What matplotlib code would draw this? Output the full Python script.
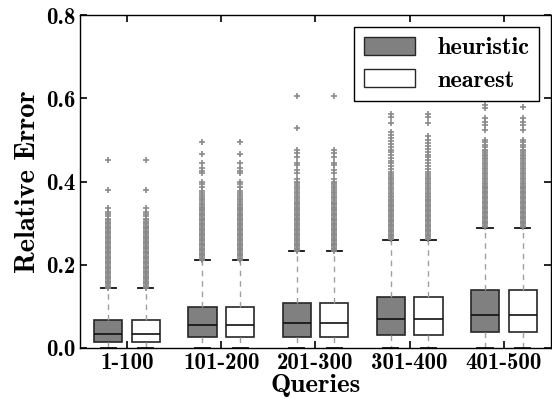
import matplotlib
matplotlib.use("Agg")
import matplotlib.pyplot as plt
from matplotlib.patches import Patch

plt.rcParams['font.family'] = ['cmb10', 'DejaVu Serif']
plt.rcParams['font.weight'] = 'bold'

categories = ["1-100", "101-200", "201-300", "301-400", "401-500"]
series = ["heuristic", "nearest"]

# box statistics (same for both methods)
q1 = [0.014, 0.026, 0.027, 0.030, 0.038]
med = [0.034, 0.055, 0.060, 0.069, 0.080]
q3 = [0.066, 0.099, 0.109, 0.122, 0.139]
whis_lo = [0.0, 0.0, 0.0, 0.0, 0.0]
whis_hi = [0.143, 0.211, 0.232, 0.259, 0.289]

fliers_heuristic = [
    [0.452, 0.380, 0.336, 0.327, 0.321, 0.316, 0.311, 0.307, 0.303, 0.300, 0.297, 0.294,
     0.291, 0.288, 0.285, 0.282, 0.279, 0.276, 0.273, 0.270, 0.267, 0.264, 0.261, 0.258,
     0.255, 0.252, 0.249, 0.246, 0.243, 0.240, 0.237, 0.234, 0.231, 0.228, 0.225, 0.222,
     0.219, 0.216, 0.213, 0.210, 0.207, 0.204, 0.201, 0.198, 0.195, 0.192, 0.189, 0.186,
     0.183, 0.180, 0.177, 0.174, 0.171, 0.168, 0.165, 0.162, 0.159, 0.156, 0.153, 0.150,
     0.147, 0.145],
    [0.496, 0.466, 0.444, 0.432, 0.426, 0.420, 0.400, 0.393, 0.388, 0.378, 0.372, 0.367,
     0.363, 0.359, 0.355, 0.351, 0.347, 0.343, 0.340, 0.337, 0.334, 0.331, 0.328, 0.325,
     0.322, 0.319, 0.316, 0.313, 0.310, 0.307, 0.304, 0.301, 0.298, 0.295, 0.292, 0.289,
     0.286, 0.283, 0.280, 0.277, 0.274, 0.271, 0.268, 0.265, 0.262, 0.259, 0.256, 0.253,
     0.250, 0.247, 0.244, 0.241, 0.238, 0.235, 0.232, 0.229, 0.226, 0.223, 0.220, 0.217,
     0.214, 0.212],
    [0.605, 0.528, 0.477, 0.468, 0.460, 0.445, 0.440, 0.428, 0.420, 0.405, 0.400, 0.396,
     0.392, 0.388, 0.384, 0.380, 0.376, 0.372, 0.368, 0.364, 0.360, 0.356, 0.352, 0.349,
     0.346, 0.343, 0.340, 0.337, 0.334, 0.331, 0.328, 0.325, 0.322, 0.319, 0.316, 0.313,
     0.310, 0.307, 0.304, 0.301, 0.298, 0.295, 0.292, 0.289, 0.286, 0.283, 0.280, 0.277,
     0.274, 0.271, 0.268, 0.265, 0.262, 0.259, 0.256, 0.253, 0.250, 0.247, 0.244, 0.241,
     0.238, 0.235, 0.233],
    [0.562, 0.556, 0.540, 0.520, 0.512, 0.505, 0.498, 0.490, 0.483, 0.476, 0.470, 0.463,
     0.456, 0.450, 0.444, 0.437, 0.430, 0.424, 0.418, 0.413, 0.409, 0.405, 0.401, 0.397,
     0.393, 0.389, 0.385, 0.381, 0.377, 0.373, 0.369, 0.365, 0.362, 0.359, 0.356, 0.353,
     0.350, 0.347, 0.344, 0.341, 0.338, 0.335, 0.332, 0.329, 0.326, 0.323, 0.320, 0.317,
     0.314, 0.311, 0.308, 0.305, 0.302, 0.299, 0.296, 0.293, 0.290, 0.287, 0.284, 0.281,
     0.278, 0.275, 0.272, 0.269, 0.266, 0.263, 0.261],
    [0.584, 0.577, 0.553, 0.544, 0.535, 0.525, 0.500, 0.494, 0.488, 0.482, 0.477, 0.473,
     0.469, 0.465, 0.461, 0.457, 0.453, 0.449, 0.445, 0.441, 0.437, 0.433, 0.429, 0.425,
     0.421, 0.417, 0.413, 0.409, 0.405, 0.401, 0.397, 0.393, 0.390, 0.387, 0.384, 0.381,
     0.378, 0.375, 0.372, 0.369, 0.366, 0.363, 0.360, 0.357, 0.354, 0.351, 0.348, 0.345,
     0.342, 0.339, 0.336, 0.333, 0.330, 0.327, 0.324, 0.321, 0.318, 0.315, 0.312, 0.309,
     0.306, 0.303, 0.300, 0.297, 0.294, 0.291],
]
fliers_nearest = [
    fliers_heuristic[0],
    fliers_heuristic[1],
    [0.605, 0.477, 0.468, 0.460, 0.445, 0.440, 0.428, 0.420, 0.405, 0.400, 0.396,
     0.392, 0.388, 0.384, 0.380, 0.376, 0.372, 0.368, 0.364, 0.360, 0.356, 0.352, 0.349,
     0.346, 0.343, 0.340, 0.337, 0.334, 0.331, 0.328, 0.325, 0.322, 0.319, 0.316, 0.313,
     0.310, 0.307, 0.304, 0.301, 0.298, 0.295, 0.292, 0.289, 0.286, 0.283, 0.280, 0.277,
     0.274, 0.271, 0.268, 0.265, 0.262, 0.259, 0.256, 0.253, 0.250, 0.247, 0.244, 0.241,
     0.238, 0.235, 0.233],
    [0.562, 0.556, 0.540, 0.510, 0.500, 0.492, 0.485, 0.478, 0.471, 0.465, 0.458,
     0.452, 0.445, 0.438, 0.431, 0.424, 0.418, 0.413, 0.409, 0.405, 0.401, 0.397,
     0.393, 0.389, 0.385, 0.381, 0.377, 0.373, 0.369, 0.365, 0.362, 0.359, 0.356, 0.353,
     0.350, 0.347, 0.344, 0.341, 0.338, 0.335, 0.332, 0.329, 0.326, 0.323, 0.320, 0.317,
     0.314, 0.311, 0.308, 0.305, 0.302, 0.299, 0.296, 0.293, 0.290, 0.287, 0.284, 0.281,
     0.278, 0.275, 0.272, 0.269, 0.266, 0.263, 0.261],
    [0.580, 0.553, 0.544, 0.535, 0.525, 0.500, 0.494, 0.488, 0.482, 0.477, 0.473,
     0.469, 0.465, 0.461, 0.457, 0.453, 0.449, 0.445, 0.441, 0.437, 0.433, 0.429, 0.425,
     0.421, 0.417, 0.413, 0.409, 0.405, 0.401, 0.397, 0.393, 0.390, 0.387, 0.384, 0.381,
     0.378, 0.375, 0.372, 0.369, 0.366, 0.363, 0.360, 0.357, 0.354, 0.351, 0.348, 0.345,
     0.342, 0.339, 0.336, 0.333, 0.330, 0.327, 0.324, 0.321, 0.318, 0.315, 0.312, 0.309,
     0.306, 0.303, 0.300, 0.297, 0.294, 0.291],
]

yticks = [0.0, 0.2, 0.4, 0.6, 0.8]
ytick_labels = ["0.0", "0.2", "0.4", "0.6", "0.8"]

fill_colors = {"heuristic": "#808080", "nearest": "#ffffff"}
offsets = {"heuristic": -0.2, "nearest": 0.2}
flier_sets = {"heuristic": fliers_heuristic, "nearest": fliers_nearest}

fig = plt.figure(figsize=(5.52, 3.99), dpi=100)
ax = fig.add_axes([0.145, 0.128, 0.853, 0.834])

for s in series:
    stats = []
    for i in range(len(categories)):
        stats.append(dict(med=med[i], q1=q1[i], q3=q3[i], whislo=whis_lo[i],
                          whishi=whis_hi[i], fliers=flier_sets[s][i]))
    positions = [i + 1 + offsets[s] for i in range(len(categories))]
    ax.bxp(stats, positions=positions, widths=0.3, patch_artist=True,
           boxprops=dict(facecolor=fill_colors[s], edgecolor="#262626", linewidth=1.2),
           medianprops=dict(color="#111111", linewidth=1.2),
           whiskerprops=dict(color="#a0a0a0", linewidth=1.0, linestyle=(0, (4, 3.5))),
           capprops=dict(color="#111111", linewidth=1.3),
           capwidths=0.16,
           flierprops=dict(marker="+", markeredgecolor="#8a8a8a", markersize=4.5,
                           markeredgewidth=1.2, linestyle="none"),
           manage_ticks=False, zorder=2)

ax.set_xlim(0.5, 5.5)
ax.set_ylim(0.0, 0.8)
ax.set_xticks(range(1, len(categories) + 1))
ax.set_xticklabels(categories, fontsize=16.5)
ax.set_yticks(yticks)
ax.set_yticklabels(ytick_labels, fontsize=16.5)
ax.tick_params(direction="in", top=True, right=True, length=5, width=1.2, pad=3)
for sp in ax.spines.values():
    sp.set_linewidth(1.0)
    sp.set_zorder(3)
ax.set_xlabel("Queries", fontsize=19.5, labelpad=0)
ax.set_ylabel("Relative Error", fontsize=20.5, labelpad=4)

handles = [Patch(facecolor=fill_colors[s], edgecolor="#262626", label=s) for s in series]
leg = ax.legend(handles=handles, loc="upper right", fontsize=17.5, frameon=True,
                fancybox=False, edgecolor="black", framealpha=1,
                handlelength=2.1, handleheight=0.75, borderaxespad=0.5,
                handletextpad=0.9, labelspacing=0.4, borderpad=0.4)
leg.get_frame().set_linewidth(1.0)
leg.set_zorder(5)

fig.savefig("out.png", dpi=100)
